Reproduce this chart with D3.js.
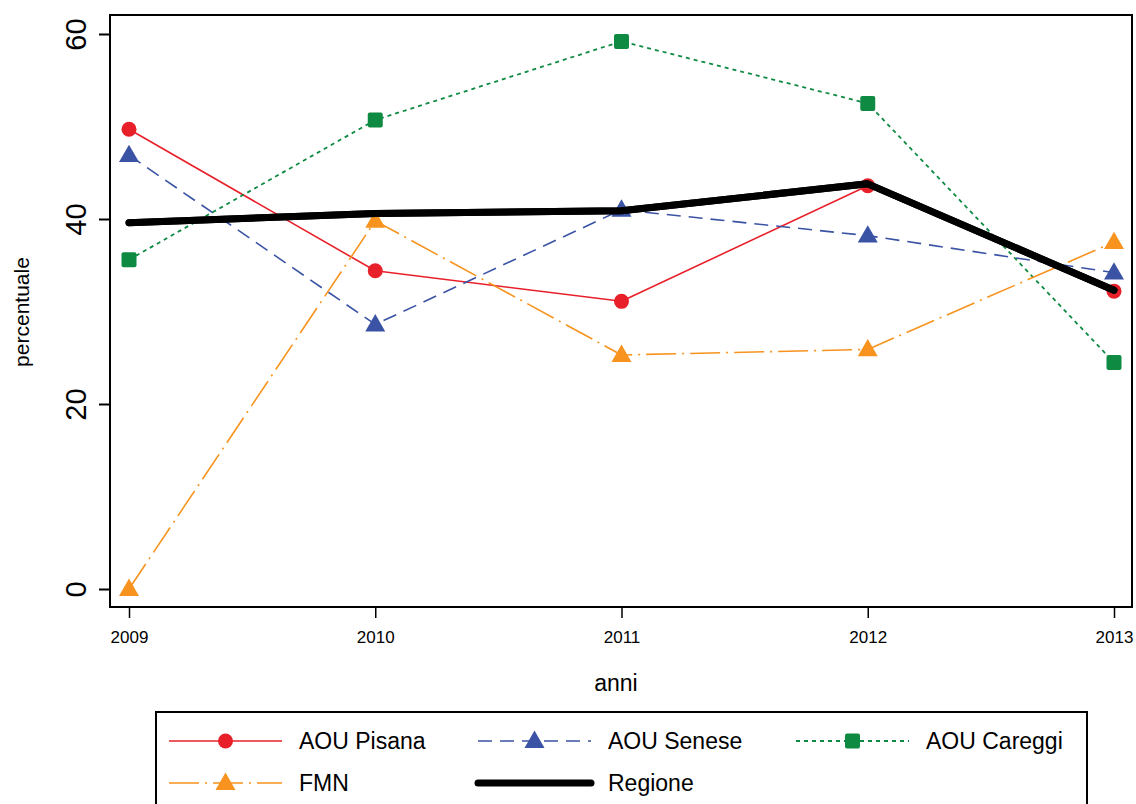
<!DOCTYPE html>
<html>
<head>
<meta charset="utf-8">
<script src="https://cdn.jsdelivr.net/npm/d3@7"></script>
<style>
  html, body { margin: 0; padding: 0; background: #fff; }
  svg { display: block; font-family: "Liberation Sans", Arial, sans-serif; }
</style>
</head>
<body>
<svg id="chart" width="1136" height="804"></svg>
<script>
const years = [2009, 2010, 2011, 2012, 2013];
const yTicks = [0, 20, 40, 60];
const pisana  = [49.7, 34.4, 31.1, 43.6, 32.2];
const senese  = [46.9, 28.6, 41.0, 38.2, 34.2];
const careggi = [35.6, 50.7, 59.2, 52.5, 24.5];
const fmn     = [0.0, 39.8, 25.3, 25.9, 37.5];
const regione = [39.6, 40.6, 40.9, 43.8, 32.3];
const seriesNames = ["AOU Pisana", "AOU Senese", "AOU Careggi", "FMN", "Regione"];

const series = [
  {name: seriesNames[0], values: pisana,  color: "#E8202A", width: 1.6, dash: null, marker: "circle"},
  {name: seriesNames[1], values: senese,  color: "#3A53A4", width: 1.6, dash: "14,8", marker: "triangle"},
  {name: seriesNames[2], values: careggi, color: "#0E8A43", width: 1.8, dash: "4,4", marker: "square"},
  {name: seriesNames[3], values: fmn,     color: "#F7931E", width: 1.6, dash: "30,6,2,6", marker: "triangle"},
  {name: seriesNames[4], values: regione, color: "#000000", width: 7,   dash: null, marker: null}
];

const svg = d3.select("#chart");
const frame = {left: 110, top: 15, right: 1132, bottom: 607};

const x = d3.scaleLinear().domain([2009, 2013]).range([129, 1114]);
const y = d3.scaleLinear().domain([0, 60]).range([589, 34]);

// frame
svg.append("rect")
  .attr("x", frame.left).attr("y", frame.top)
  .attr("width", frame.right - frame.left).attr("height", frame.bottom - frame.top)
  .attr("fill", "none").attr("stroke", "#000").attr("stroke-width", 2);

// y axis
const yAxis = d3.axisLeft(y).tickValues(yTicks).tickSize(11).tickFormat(d3.format("d"));
const gy = svg.append("g").attr("transform", `translate(${frame.left},0)`).call(yAxis);
gy.select(".domain").remove();
gy.selectAll(".tick line").attr("stroke", "#000").attr("stroke-width", 2);
gy.selectAll(".tick text")
  .attr("x", null).attr("dy", null)
  .attr("transform", "translate(-24,0) rotate(-90)")
  .attr("text-anchor", "middle")
  .attr("font-size", 29)
  .attr("font-family", "Liberation Sans, Arial, sans-serif")
  .attr("fill", "#000");

// x axis
const xAxis = d3.axisBottom(x).tickValues(years).tickSize(11).tickFormat(d3.format("d"));
const gx = svg.append("g").attr("transform", `translate(0,${frame.bottom})`).call(xAxis);
gx.select(".domain").remove();
gx.selectAll(".tick line").attr("stroke", "#000").attr("stroke-width", 1.5);
gx.selectAll(".tick text")
  .attr("y", 36).attr("dy", null)
  .attr("font-size", 17)
  .attr("font-family", "Liberation Sans, Arial, sans-serif")
  .attr("fill", "#000");

// axis titles
svg.append("text").attr("x", 616).attr("y", 691).attr("text-anchor", "middle")
  .attr("font-size", 23).attr("fill", "#000").text("anni");
svg.append("text").attr("transform", "translate(29,312) rotate(-90)").attr("text-anchor", "middle")
  .attr("font-size", 21).attr("fill", "#000").text("percentuale");

const line = d3.line().x((d, i) => x(years[i])).y(d => y(d));

function drawMarker(g, type, cx, cy, color) {
  if (type === "circle") {
    g.append("circle").attr("cx", cx).attr("cy", cy).attr("r", 7.5).attr("fill", color);
  } else if (type === "triangle") {
    const s = 20, h = s * Math.sqrt(3) / 2;
    g.append("path")
      .attr("d", `M${cx},${cy - h * 0.6}L${cx + s / 2},${cy + h * 0.4}L${cx - s / 2},${cy + h * 0.4}Z`)
      .attr("fill", color);
  } else if (type === "square") {
    g.append("rect").attr("x", cx - 7.5).attr("y", cy - 7.5).attr("width", 15).attr("height", 15)
      .attr("rx", 2).attr("fill", color);
  }
}

const plot = svg.append("g");
series.forEach(s => {
  plot.append("path").datum(s.values)
    .attr("d", line)
    .attr("fill", "none")
    .attr("stroke", s.color)
    .attr("stroke-width", s.width)
    .attr("stroke-dasharray", s.dash)
    .attr("stroke-linejoin", "round")
    .attr("stroke-linecap", s.marker ? "butt" : "round");
  if (s.marker) {
    s.values.forEach((v, i) => drawMarker(plot, s.marker, x(years[i]), y(v), s.color));
  }
});
// redraw Regione on top
plot.append("path").datum(regione)
  .attr("d", line).attr("fill", "none").attr("stroke", "#000")
  .attr("stroke-width", 7).attr("stroke-linecap", "round").attr("stroke-linejoin", "round");

// legend
const legend = svg.append("g");
legend.append("rect").attr("x", 156).attr("y", 712).attr("width", 931).attr("height", 110)
  .attr("fill", "#fff").attr("stroke", "#000").attr("stroke-width", 2);

const legPos = [
  {x1: 169, x2: 282, tx: 299, cy: 741},
  {x1: 478, x2: 591, tx: 608, cy: 741},
  {x1: 796, x2: 909, tx: 926, cy: 741},
  {x1: 169, x2: 282, tx: 299, cy: 783},
  {x1: 478, x2: 591, tx: 608, cy: 783}
];
series.forEach((s, i) => {
  const p = legPos[i];
  legend.append("line")
    .attr("x1", p.x1).attr("x2", p.x2).attr("y1", p.cy).attr("y2", p.cy)
    .attr("stroke", s.color).attr("stroke-width", s.width)
    .attr("stroke-dasharray", s.dash)
    .attr("stroke-linecap", s.marker ? "butt" : "round");
  if (s.marker) drawMarker(legend, s.marker, (p.x1 + p.x2) / 2, p.cy, s.color);
  legend.append("text").attr("x", p.tx).attr("y", p.cy + 8)
    .attr("font-size", 23).attr("fill", "#000").text(s.name);
});
</script>
</body>
</html>
